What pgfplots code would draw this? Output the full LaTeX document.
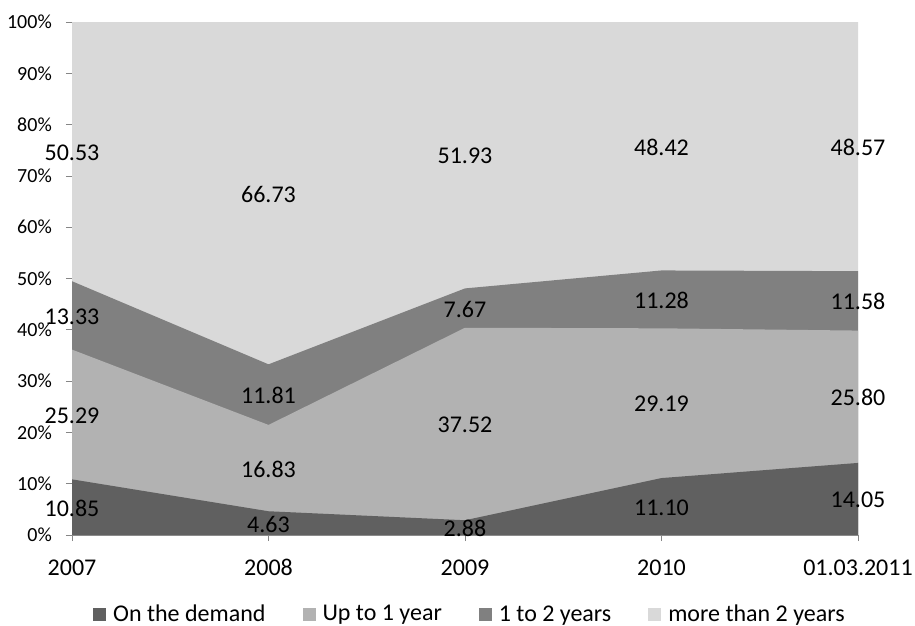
\documentclass[border=0pt]{standalone}
\usepackage{fontspec}
\setmainfont{Carlito}
\usepackage{pgfplots}
\pgfplotsset{compat=1.18}
\usepackage{pgfplotstable}
\definecolor{cA}{HTML}{606060}
\definecolor{cB}{HTML}{B2B2B2}
\definecolor{cC}{HTML}{808080}
\definecolor{cD}{HTML}{D9D9D9}
\definecolor{axgray}{HTML}{868686}

\pgfplotstableread{
x a b c d
0 10.85 25.29 13.33 50.53
1 4.63 16.83 11.81 66.73
2 2.88 37.52 7.67 51.93
3 11.10 29.19 11.28 48.42
4 14.05 25.80 11.58 48.57
}\datatable

\pgfplotsset{labelplot/.style={draw=none, mark=text, text mark={},
  forget plot, nodes near coords, point meta=explicit symbolic}}

\begin{document}
\begin{tikzpicture}
\useasboundingbox (0,0) rectangle (915pt,625pt);
\begin{axis}[
  at={(72pt,90pt)}, anchor=south west,
  scale only axis, width=786pt, height=513pt,
  xmin=0, xmax=4, ymin=0, ymax=100,
  axis lines*=left,
  axis line style={axgray, line width=0.8pt},
  xtick={0,1,2,3,4},
  xticklabels={2007,2008,2009,2010,01.03.2011},
  ytick={0,10,20,30,40,50,60,70,80,90,100},
  yticklabels={0\%,10\%,20\%,30\%,40\%,50\%,60\%,70\%,80\%,90\%,100\%},
  tick align=outside, major tick length=6pt,
  tick style={axgray, line width=0.8pt},
  xticklabel style={font=\fontsize{24}{28}\selectfont, anchor=base, inner sep=0pt, yshift=-34pt},
  yticklabel style={font=\fontsize{20}{24}\selectfont, anchor=east, inner sep=0pt, xshift=-14pt},
  clip=false,
  legend columns=4,
  legend style={at={(axis description cs:0.0267,-0.154)}, anchor=west, draw=none, fill=none,
    inner sep=0pt, font=\fontsize{24}{28}\selectfont, column sep=7pt,
    nodes={inner sep=0pt},
    /tikz/every even column/.append style={column sep=37pt}},
  legend image code/.code={\path[#1, draw=none] (0pt,-7pt) rectangle (13pt,6pt);},
  every node near coord/.append style={anchor=center, font=\fontsize{24}{28}\selectfont, text=black, inner sep=0pt, yshift=-1pt},
]
\addlegendimage{fill=cA}\addlegendentry{On the demand}
\addlegendimage{fill=cB}\addlegendentry{Up to 1 year}
\addlegendimage{fill=cC}\addlegendentry{1 to 2 years}
\addlegendimage{fill=cD}\addlegendentry{more than 2 years}

\addplot[fill=cD, draw=none, forget plot] table[x=x, y expr=\thisrow{a}+\thisrow{b}+\thisrow{c}+\thisrow{d}] {\datatable} \closedcycle;
\addplot[fill=cC, draw=none, forget plot] table[x=x, y expr=\thisrow{a}+\thisrow{b}+\thisrow{c}] {\datatable} \closedcycle;
\addplot[fill=cB, draw=none, forget plot] table[x=x, y expr=\thisrow{a}+\thisrow{b}] {\datatable} \closedcycle;
\addplot[fill=cA, draw=none, forget plot] table[x=x, y=a] {\datatable} \closedcycle;

\addplot[labelplot] table[x=x, y expr=\thisrow{a}/2, meta=a] {\datatable};
\addplot[labelplot] table[x=x, y expr=\thisrow{a}+\thisrow{b}/2, meta=b] {\datatable};
\addplot[labelplot] table[x=x, y expr=\thisrow{a}+\thisrow{b}+\thisrow{c}/2, meta=c] {\datatable};
\addplot[labelplot] table[x=x, y expr=\thisrow{a}+\thisrow{b}+\thisrow{c}+\thisrow{d}/2, meta=d] {\datatable};
\end{axis}
\end{tikzpicture}
\end{document}
